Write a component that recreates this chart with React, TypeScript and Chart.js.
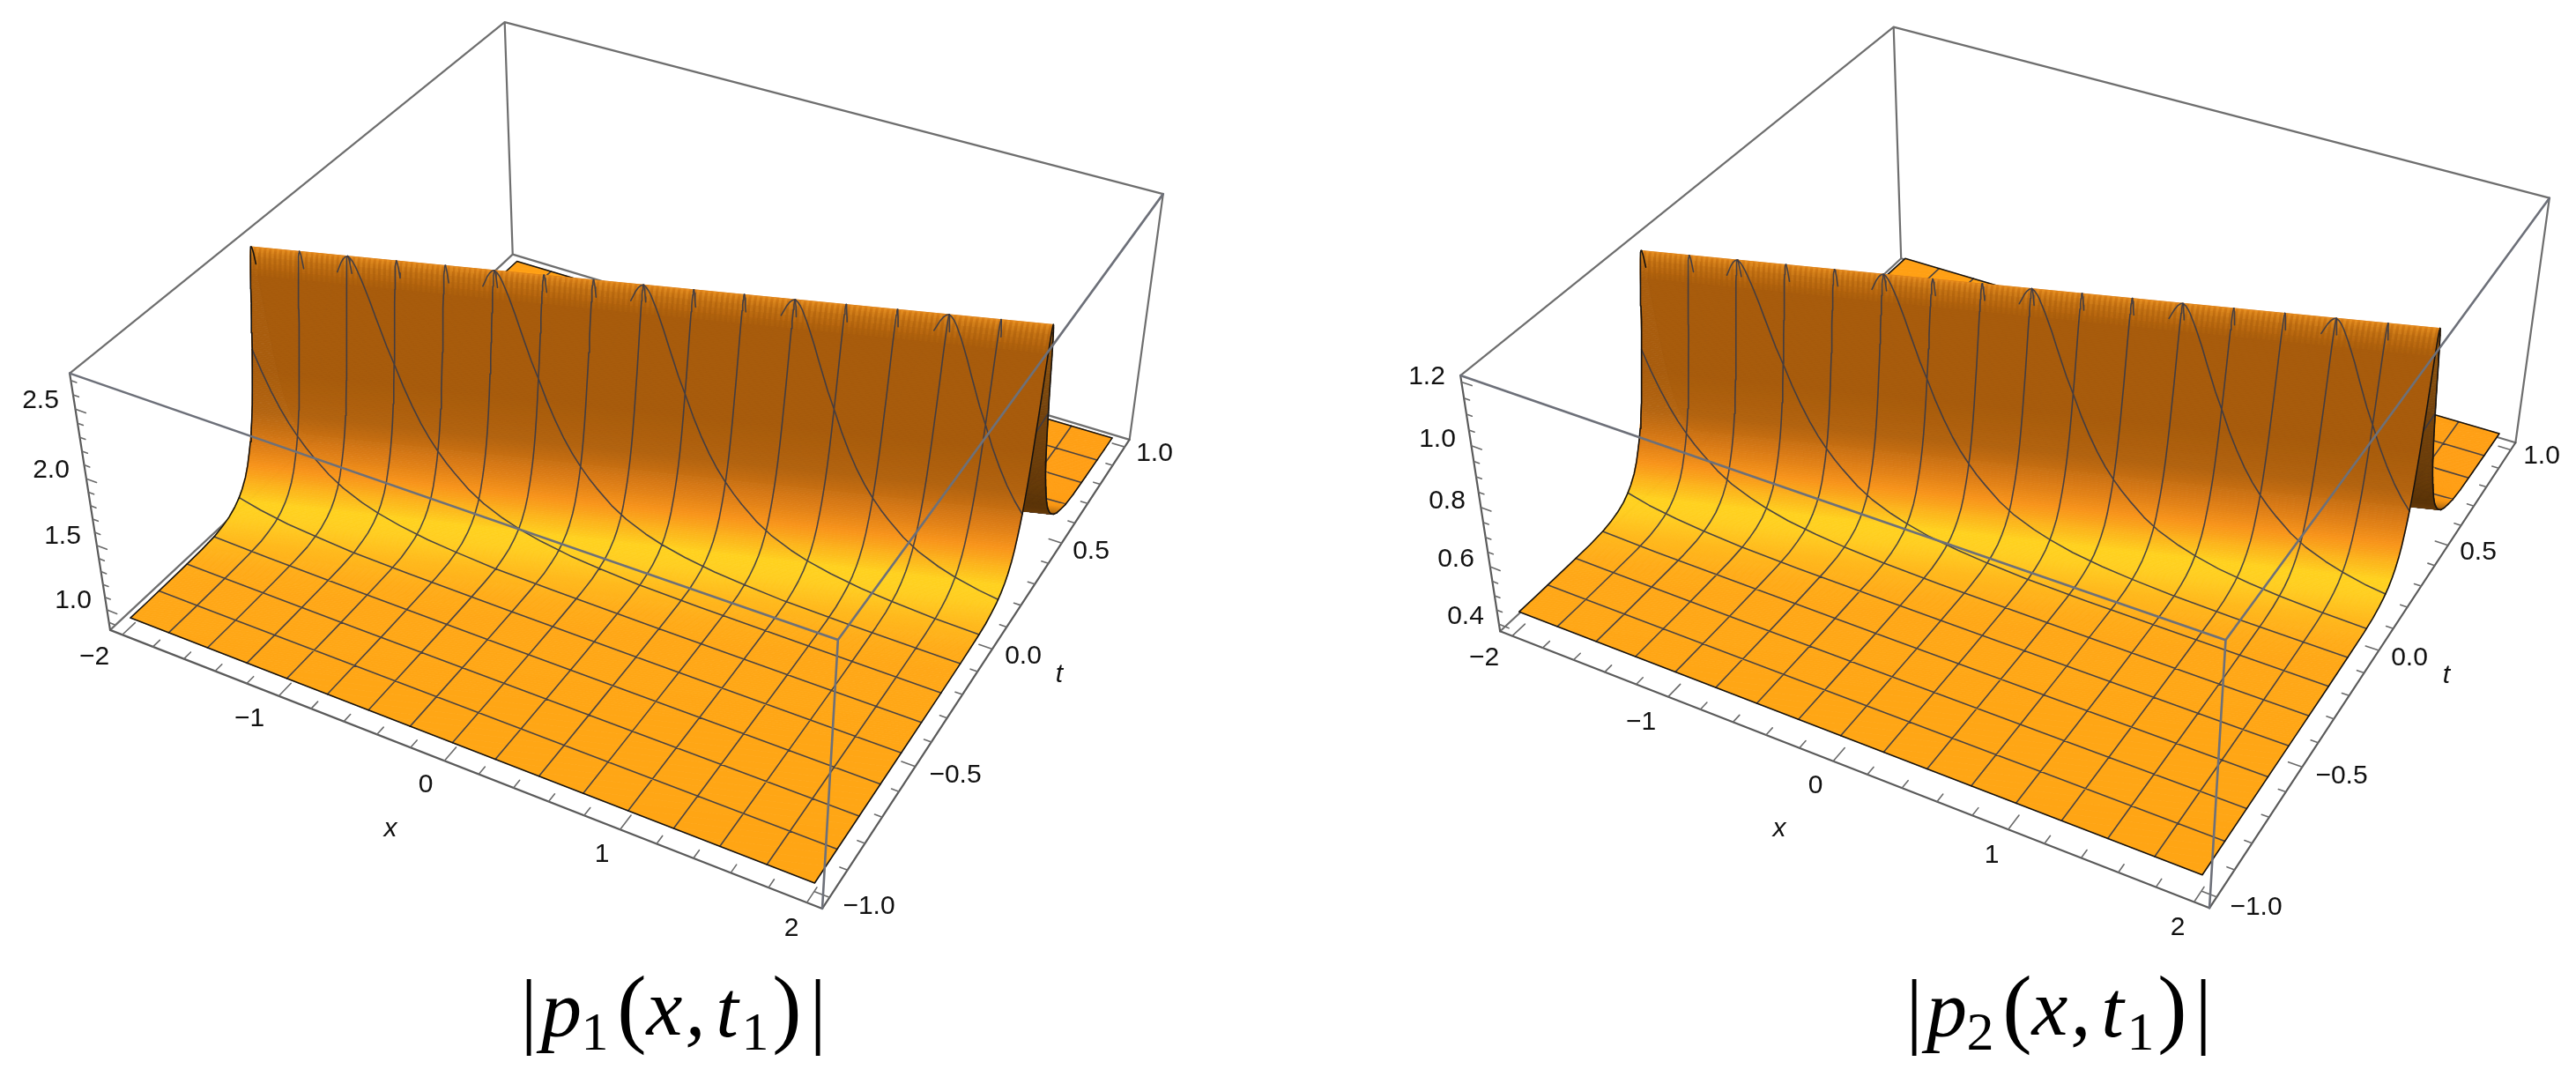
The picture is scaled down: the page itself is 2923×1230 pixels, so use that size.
import React, { useEffect, useRef } from "react";
import { Chart, registerables } from "chart.js";

Chart.register(...registerables);

// ---------- data ----------
// distance behind (+) or in front of (-) the ridge, measured along t
const ridgeOffset = [-1.34,-0.8,-0.6,-0.45,-0.35,-0.29,-0.25,-0.22,-0.19,-0.1667,-0.15,-0.13,-0.115,-0.1,-0.0917,-0.0833,-0.075,-0.0667,-0.0583,-0.05,-0.0417,-0.035,-0.03,-0.025,-0.02,-0.015,-0.0125,-0.01,-0.0075,-0.005,-0.0025,0,0.0025,0.005,0.0075,0.01,0.0125,0.015,0.02,0.025,0.03,0.035,0.0417,0.05,0.0583,0.0667,0.075,0.0833,0.0917,0.1,0.115,0.13,0.15,0.1667,0.19,0.22,0.25,0.29,0.35,0.45,0.6,0.8,1.34];
const p1Values = [0.905,0.905,0.905,0.909,0.915,0.925,0.945,0.965,1.0,1.04,1.08,1.145,1.215,1.31,1.37,1.44,1.52,1.615,1.73,1.86,2.01,2.125,2.225,2.325,2.43,2.525,2.57,2.61,2.65,2.68,2.70,2.71,2.70,2.68,2.65,2.61,2.57,2.525,2.43,2.325,2.225,2.125,2.01,1.86,1.73,1.615,1.52,1.44,1.37,1.31,1.215,1.145,1.08,1.04,1.0,0.965,0.945,0.92,0.905,0.895,0.885,0.875,0.86];
const p2Values = [0.43,0.43,0.43,0.432,0.434,0.439,0.447,0.456,0.47,0.488,0.505,0.532,0.562,0.603,0.628,0.658,0.692,0.733,0.782,0.837,0.901,0.95,0.993,1.036,1.081,1.121,1.14,1.157,1.174,1.187,1.196,1.2,1.196,1.187,1.174,1.157,1.14,1.121,1.081,1.036,0.993,0.95,0.901,0.837,0.782,0.733,0.692,0.658,0.628,0.603,0.562,0.532,0.505,0.488,0.47,0.456,0.447,0.437,0.43,0.426,0.422,0.417,0.41];
const ridgeSlope = 1 / 6; // ridge line: t = x / 6

const meshX = [-1.75,-1.5,-1.25,-1,-0.75,-0.5,-0.25,0,0.25,0.5,0.75,1,1.25,1.5,1.75];
const meshT = [-0.875,-0.75,-0.625,-0.5,-0.375,-0.25,-0.125,0,0.125,0.25,0.375,0.5,0.625,0.75,0.875];

const xTicks = [-2,-1.8,-1.6,-1.4,-1.2,-1,-0.8,-0.6,-0.4,-0.2,0,0.2,0.4,0.6,0.8,1,1.2,1.4,1.6,1.8,2];
const tTicks = [-1,-0.9,-0.8,-0.7,-0.6,-0.5,-0.4,-0.3,-0.2,-0.1,0,0.1,0.2,0.3,0.4,0.5,0.6,0.7,0.8,0.9,1];
const p1ZTicks = [0.9,1,1.1,1.2,1.3,1.4,1.5,1.6,1.7,1.8,1.9,2,2.1,2.2,2.3,2.4,2.5,2.6,2.7];
const p2ZTicks = [0.4,0.45,0.5,0.55,0.6,0.65,0.7,0.75,0.8,0.85,0.9,0.95,1,1.05,1.1,1.15,1.2];

// surface colour along the profile
const shadeOffset = [-1.34,-0.5,-0.4,-0.3,-0.22,-0.175,-0.14,-0.115,-0.09,-0.07,-0.05,-0.015,-0.008,-0.002,0,0.01,0.04,0.12,0.17,0.22,0.27,0.32,1.34];
const shadeRed = [255,255,255,255,255,255,252,248,215,180,168,168,185,215,230,150,115,88,105,190,248,255,255];
const shadeGreen = [165,167,172,185,205,210,180,148,120,100,92,92,105,125,135,88,66,50,60,115,150,158,160];
const shadeBlue = [20,22,24,28,32,30,28,26,20,16,12,12,16,22,28,15,12,8,10,18,20,20,20];

// ---------- layout ----------
const WIDTH = 2923;
const HEIGHT = 1230;
const boxX = [-2.08, 2.08];
const boxT = [-1.04, 1.04];

const panels = [
  {
    values: p1Values, zTicks: p1ZTicks, zMajor: [1, 1.5, 2, 2.5], boxZ: [0.84, 2.75],
    // image of the box corners: order u,v,w in {0,1}
    corners: [[125,714.6],[933,1031],[581.7,288.7],[1281.7,499],[79,424],[951,725.8],[572.8,25],[1319.6,220]],
    labels: [["2.5",46,455],["2.0",58,534],["1.5",71,609],["1.0",83,682],["\u22122",107,746],["\u22121",283,816],["0",483,891],["1",683,970],["2",898,1054],["\u22121.0",986,1029],["\u22120.5",1084,880],["0.0",1161,745],["0.5",1238,626],["1.0",1310,515]],
    axisNames: [["x",443,941],["t",1202,766]],
    title: { sub: "1", dx: 0 },
  },
  {
    values: p2Values, zTicks: p2ZTicks, zMajor: [0.4, 0.6, 0.8, 1, 1.2], boxZ: [0.375, 1.22],
    corners: [[1701.7,715],[2507.8,1031],[2157.4,294],[2854,502],[1657.4,427.5],[2525,725.5],[2148.7,29.8],[2893,225]],
    labels: [["1.2",1619,428],["1.0",1631,499],["0.8",1642,569],["0.6",1652,635],["0.4",1663,700],["\u22122",1684,747],["\u22121",1862,820],["0",2060,892],["1",2260,971],["2",2471,1053],["\u22121.0",2560,1030],["\u22120.5",2657,881],["0.0",2734,747],["0.5",2812,627],["1.0",2884,518]],
    axisNames: [["x",2019,941],["t",2776,767]],
    title: { sub: "2", dx: 1572 },
  },
];

const titleGlyphs = [
  { s: "|", x: 600, y: 1178, f: "96px" },
  { s: "p", x: 637, y: 1176, f: "italic 92px" },
  { s: "SUB", x: 675, y: 1191, f: "62px" },
  { s: "(", x: 717, y: 1176, f: "100px" },
  { s: "x", x: 754, y: 1174, f: "italic 92px" },
  { s: ",", x: 789, y: 1174, f: "italic 92px" },
  { s: "t", x: 825, y: 1176, f: "italic 92px" },
  { s: "1", x: 857, y: 1191, f: "62px" },
  { s: ")", x: 893, y: 1176, f: "100px" },
  { s: "|", x: 928, y: 1178, f: "96px" },
];

// ---------- helpers ----------
function solve(A: number[][], b: number[]) {
  const n = b.length;
  const M = A.map((r, i) => [...r, b[i]]);
  for (let c = 0; c < n; c++) {
    let p = c;
    for (let r = c + 1; r < n; r++) if (Math.abs(M[r][c]) > Math.abs(M[p][c])) p = r;
    [M[c], M[p]] = [M[p], M[c]];
    for (let r = 0; r < n; r++) {
      if (r === c) continue;
      const k = M[r][c] / M[c][c];
      for (let j = c; j <= n; j++) M[r][j] -= k * M[c][j];
    }
  }
  return M.map((r, i) => r[n] / r[i]);
}

function fitCamera(corners: number[][]) {
  const rows: number[][] = [];
  const rhs: number[] = [];
  corners.forEach(([px, py], i) => {
    const u = i & 1, v = (i >> 1) & 1, w = (i >> 2) & 1;
    const a = px / 1000, b = py / 1000;
    rows.push([u, v, w, 1, 0, 0, 0, 0, -a * u, -a * v, -a * w]); rhs.push(a);
    rows.push([0, 0, 0, 0, u, v, w, 1, -b * u, -b * v, -b * w]); rhs.push(b);
  });
  const AtA = Array.from({ length: 11 }, (_, i) => Array.from({ length: 11 }, (_, j) => rows.reduce((s, r) => s + r[i] * r[j], 0)));
  const Atb = Array.from({ length: 11 }, (_, i) => rows.reduce((s, r, k) => s + r[i] * rhs[k], 0));
  return solve(AtA, Atb);
}

const GAP = { x: NaN, y: NaN };

function interp(xs: number[], ys: number[], v: number) {
  if (v <= xs[0]) return ys[0];
  for (let i = 1; i < xs.length; i++) {
    if (v <= xs[i]) return ys[i - 1] + ((ys[i] - ys[i - 1]) * (v - xs[i - 1])) / (xs[i] - xs[i - 1]);
  }
  return ys[ys.length - 1];
}

function shadeAt(s: number) {
  const r = Math.round(interp(shadeOffset, shadeRed, s));
  const g = Math.round(interp(shadeOffset, shadeGreen, s));
  const b = Math.round(interp(shadeOffset, shadeBlue, s));
  return `rgb(${r},${g},${b})`;
}

const offsetOf = (x: number, t: number) => t - x * ridgeSlope;

function clipHalf(poly: number[][], keep: (p: number[]) => number) {
  const out: number[][] = [];
  for (let i = 0; i < poly.length; i++) {
    const a = poly[i], b = poly[(i + 1) % poly.length];
    const da = keep(a), db = keep(b);
    if (da >= 0) out.push(a);
    if (da * db < 0) {
      const k = da / (da - db);
      out.push([a[0] + (b[0] - a[0]) * k, a[1] + (b[1] - a[1]) * k]);
    }
  }
  return out;
}

function buildPanelDatasets(panel: any) {
  const cam = fitCamera(panel.corners);
  const [z0, z1] = panel.boxZ;
  const project = (x: number, t: number, z: number) => {
    const u = (x - boxX[0]) / (boxX[1] - boxX[0]);
    const v = (t - boxT[0]) / (boxT[1] - boxT[0]);
    const w = (z - z0) / (z1 - z0);
    const d = cam[8] * u + cam[9] * v + cam[10] * w + 1;
    return {
      x: (1000 * (cam[0] * u + cam[1] * v + cam[2] * w + cam[3])) / d,
      y: (1000 * (cam[4] * u + cam[5] * v + cam[6] * w + cam[7])) / d,
    };
  };
  const heightAt = (s: number) => interp(ridgeOffset, panel.values, s);
  const onSurface = (x: number, t: number) => project(x, t, heightAt(offsetOf(x, t)));

  const line = (data: any[], color: string, width: number) => ({
    data, showLine: true, fill: false, borderColor: color, borderWidth: width, pointRadius: 0,
    borderCapStyle: "round", borderJoinStyle: "round",
  });
  const strip = (a: number, b: number, color: string) => {
    let poly = [[-2,-1],[2,-1],[2,1],[-2,1]];
    poly = clipHalf(poly, (p) => offsetOf(p[0], p[1]) - a);
    if (poly.length) poly = clipHalf(poly, (p) => b - offsetOf(p[0], p[1]));
    if (poly.length < 3) return null;
    const pts = poly.map((p) => onSurface(p[0], p[1]));
    pts.push(pts[0]);
    return { data: pts, showLine: true, fill: "shape", backgroundColor: color, borderColor: color, borderWidth: 0.8, pointRadius: 0 };
  };
  const xLine = (x: number, lo: number, hi: number) => {
    const tLo = Math.max(-1, lo + x * ridgeSlope), tHi = Math.min(1, hi + x * ridgeSlope);
    if (tLo >= tHi) return [];
    const ts = [tLo];
    ridgeOffset.forEach((s) => { const t = s + x * ridgeSlope; if (t > tLo && t < tHi) ts.push(t); });
    ts.push(tHi);
    return ts.map((t) => onSurface(x, t));
  };
  const tLine = (t: number, lo: number, hi: number) => {
    const sLo = Math.max(lo, t - 2 * ridgeSlope), sHi = Math.min(hi, t + 2 * ridgeSlope);
    if (sLo >= sHi) return [];
    const ss = [sLo];
    ridgeOffset.forEach((s) => { if (s > sLo && s < sHi) ss.push(s); });
    ss.push(sHi);
    return ss.map((s) => onSurface((t - s) / ridgeSlope, t));
  };
  const join = (parts: any[][]) => {
    const out: any[] = [];
    parts.forEach((p) => { if (p.length) { out.push(...p, GAP); } });
    return out;
  };

  const MESH = "rgba(58,58,70,0.9)";
  const EDGE = "#151210";
  const seq: any[] = [];

  // box, behind the surface
  const c = (u: number, v: number, w: number) => project(boxX[u], boxT[v], panel.boxZ[w]);
  const backEdges = [[0,0,0,0,1,0],[0,1,0,0,1,1],[1,1,0,1,1,1],[0,1,1,1,1,1],[0,0,1,0,1,1],[0,1,0,1,1,0]];
  seq.push(line(join(backEdges.map((e) => [c(e[0],e[1],e[2]), c(e[3],e[4],e[5])])), "#6e6e6e", 2.2));
  const axisEdges = [[0,0,0,1,0,0],[1,0,0,1,1,0],[0,0,0,0,0,1]];
  seq.push(line(join(axisEdges.map((e) => [c(e[0],e[1],e[2]), c(e[3],e[4],e[5])])), "#5a5a5a", 2.2));

  // ticks
  const tk: any[][] = [];
  xTicks.forEach((x) => { const L = Number.isInteger(x) ? 0.055 : 0.03; tk.push([project(x, boxT[0], z0), project(x, boxT[0] + L, z0)]); });
  tTicks.forEach((t) => { const L = Math.abs(t * 2 - Math.round(t * 2)) < 1e-6 ? 0.075 : 0.04; tk.push([project(boxX[1], t, z0), project(boxX[1] - L, t, z0)]); });
  panel.zTicks.forEach((z: number) => { const L = panel.zMajor.some((m: number) => Math.abs(m - z) < 1e-6) ? 0.065 : 0.035; tk.push([project(boxX[0], boxT[0], z), project(boxX[0] + L, boxT[0], z)]); });
  seq.push(line(join(tk), "#6a6a6a", 1.6));

  const pieces = (a: number, b: number) => {
    const rise = Math.abs(heightAt(b) - heightAt(a)) / (z1 - z0);
    const n = Math.min(24, Math.max(1, Math.ceil((b - a) / 0.003), Math.ceil(rise / 0.006)));
    return Array.from({ length: n }, (_, i) => [a + ((b - a) * i) / n, a + ((b - a) * (i + 1)) / n]);
  };

  // back of the ridge, far to near, each strip followed by its mesh
  for (let i = ridgeOffset.length - 2; i >= 0; i--) {
    const a = ridgeOffset[i], b = ridgeOffset[i + 1];
    if (a < 0) break;
    pieces(a, b).reverse().forEach(([p, q]) => {
      const st = strip(p, q, shadeAt((p + q) / 2));
      if (st) seq.push(st);
    });
    const mesh = join([...meshX.map((x) => xLine(x, a, b)), ...meshT.map((t) => tLine(t, a, b))]);
    if (mesh.length) seq.push(line(mesh, MESH, 1.6));
    const edge = join([xLine(-2, a, b), xLine(2, a, b), tLine(1, a, b), tLine(-1, a, b)]);
    if (edge.length) seq.push(line(edge, EDGE, 1.6));
  }

  // front of the ridge, ridge line to foreground
  for (let i = ridgeOffset.indexOf(0) - 1; i >= 0; i--) {
    pieces(ridgeOffset[i], ridgeOffset[i + 1]).reverse().forEach(([p, q]) => {
      const st = strip(p, q, shadeAt((p + q) / 2));
      if (st) seq.push(st);
    });
  }

  // fine facet shimmer on the crest
  const crestBands = [[-0.005, 0, "rgba(255,175,55,0.30)"], [-0.0075, -0.005, "rgba(255,170,50,0.25)"], [-0.01, -0.0075, "rgba(250,160,40,0.20)"], [-0.0125, -0.01, "rgba(245,150,35,0.14)"], [-0.015, -0.0125, "rgba(235,140,30,0.08)"]];
  crestBands.forEach(([a, b, color]: any) => {
    const cells: any[][] = [];
    for (let x = -2; x < 1.98; x += 0.027) {
      const x2 = x + 0.0135;
      cells.push([onSurface(x, a + x * ridgeSlope), onSurface(x2, a + x2 * ridgeSlope), onSurface(x2, b + x2 * ridgeSlope), onSurface(x, b + x * ridgeSlope), onSurface(x, a + x * ridgeSlope)]);
    }
    seq.push({ data: join(cells), showLine: true, fill: "shape", backgroundColor: color, borderWidth: 0, pointRadius: 0 });
  });

  const lo = ridgeOffset[0];
  seq.push(line(join([...meshX.map((x) => xLine(x, lo, 0)), ...meshT.map((t) => tLine(t, lo, 0))]), MESH, 1.6));
  seq.push(line(join([xLine(-2, lo, 0), xLine(2, lo, 0), tLine(-1, lo, 0), tLine(1, lo, 0)]), EDGE, 1.6));

  // the crest's far side shows through at the very top of each mesh line
  const tip = 0.0125;
  seq.push(line(join([...meshX.map((x) => xLine(x, 0, tip)), ...meshT.map((t) => tLine(t, 0, tip))]), MESH, 1.6));
  seq.push(line(join([xLine(-2, 0, tip)]), EDGE, 1.6));

  // box edges in front of the surface
  const frontEdges = [[0,0,1,1,0,1],[1,1,1,1,0,1],[1,0,1,1,0,0]];
  seq.push(line(join(frontEdges.map((e) => [c(e[0],e[1],e[2]), c(e[3],e[4],e[5])])), "#6d7079", 2.6));
  return seq;
}

const textPlugin = {
  id: "panelText",
  afterDraw(chart: any) {
    const { ctx, scales } = chart;
    const X = (v: number) => scales.x.getPixelForValue(v);
    const Y = (v: number) => scales.y.getPixelForValue(v);
    ctx.save();
    ctx.fillStyle = "#111";
    ctx.textAlign = "center";
    ctx.textBaseline = "middle";
    panels.forEach((panel) => {
      ctx.font = '30px "Liberation Sans"';
      panel.labels.forEach((l: any) => ctx.fillText(l[0], X(l[1]), Y(l[2])));
      ctx.font = 'italic 30px "Liberation Sans"';
      panel.axisNames.forEach((l: any) => ctx.fillText(l[0], X(l[1]), Y(l[2])));
    });
    ctx.textBaseline = "alphabetic";
    ctx.fillStyle = "#000";
    panels.forEach((panel) => {
      titleGlyphs.forEach((g) => {
        ctx.font = `${g.f} "Liberation Serif"`;
        ctx.fillText(g.s === "SUB" ? panel.title.sub : g.s, X(g.x + panel.title.dx), Y(g.y));
      });
    });
    ctx.restore();
  },
};

export default function App() {
  const ref = useRef<HTMLCanvasElement>(null);
  useEffect(() => {
    const ordered = panels.flatMap((p) => buildPanelDatasets(p));
    // Chart.js paints the first dataset last
    const datasets = ordered.reverse();
    const chart = new Chart(ref.current as HTMLCanvasElement, {
      type: "scatter",
      data: { datasets },
      options: {
        responsive: false,
        animation: false,
        events: [],
        layout: { padding: 0 },
        plugins: { legend: { display: false }, tooltip: { enabled: false }, title: { display: false } },
        scales: {
          x: { type: "linear", min: 0, max: WIDTH, display: false },
          y: { type: "linear", min: 0, max: HEIGHT, reverse: true, display: false },
        },
      },
      plugins: [textPlugin],
    } as any);
    return () => chart.destroy();
  }, []);
  return (
    <canvas
      ref={ref}
      width={WIDTH}
      height={HEIGHT}
      style={{ position: "absolute", left: 0, top: 0, display: "block", background: "#fff" }}
    />
  );
}
